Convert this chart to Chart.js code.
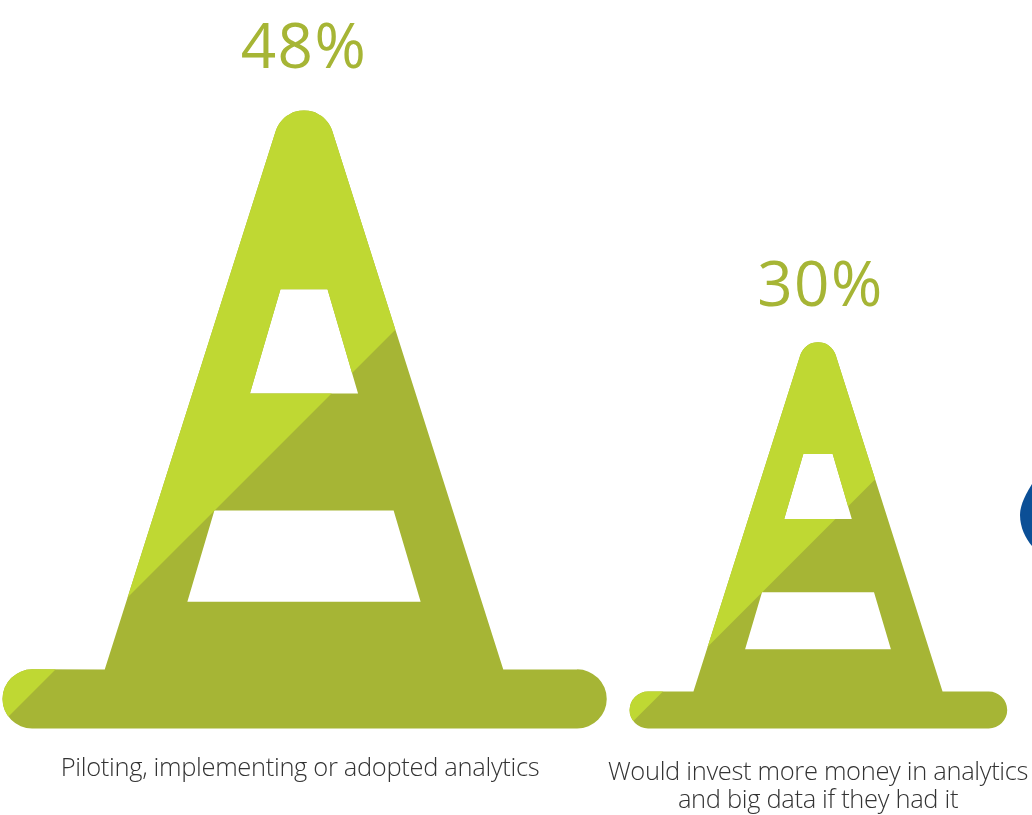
<!DOCTYPE html>
<html>
<head>
<meta charset="utf-8">
<title>Analytics and big data</title>
<script src="https://cdn.jsdelivr.net/npm/chart.js@4"></script>
<style>
  html, body { margin: 0; padding: 0; background: #fff; overflow: hidden; }
  canvas { display: block; }
</style>
</head>
<body>
<canvas id="chart" width="1032" height="815"></canvas>
<script>
// Dados
const categories = [
  ['Piloting, implementing or adopted analytics'],
  ['Would invest more money in analytics', 'and big data if they had it']
];
const values = [48, 30];
const valueLabels = ['48%', '30%'];

const LIGHT = '#bfd833';
const DARK = '#a6b535';

// Contorno do cone, tudo proporcional a altura da barra
function conePath(cx, base, h) {
  const p = new Path2D();
  const apex = base - 1.11 * h;
  const shoulder = base - 0.0955 * h;
  const foot = 0.3222 * h;
  const half = 0.4885 * h;
  const r = 0.0478 * h;
  const mid = cx + 0.001 * h;
  p.moveTo(cx - foot, shoulder);
  p.arcTo(cx, apex, cx + foot, shoulder, 0.048 * h);
  p.lineTo(cx + foot, shoulder);
  p.lineTo(mid + half - r, shoulder);
  p.arc(mid + half - r, base - r, r, -Math.PI / 2, Math.PI / 2);
  p.lineTo(mid - half + r, base);
  p.arc(mid - half + r, base - r, r, Math.PI / 2, Math.PI * 1.5);
  p.closePath();
  // faixas brancas
  [[0.7102, 0.038, 0.5418, 0.0874], [0.3524, 0.1449, 0.2051, 0.1886]].forEach(w => {
    p.moveTo(cx - w[1] * h, base - w[0] * h);
    p.lineTo(cx + w[1] * h, base - w[0] * h);
    p.lineTo(cx + w[3] * h, base - w[2] * h);
    p.lineTo(cx - w[3] * h, base - w[2] * h);
    p.closePath();
  });
  return p;
}

const conePlugin = {
  id: 'cones',
  afterDatasetsDraw(chart) {
    const ctx = chart.ctx;
    chart.getDatasetMeta(0).data.forEach((bar, i) => {
      const h = bar.base - bar.y;
      const cx = bar.x;
      const path = conePath(cx, bar.base, h);
      ctx.save();
      ctx.fillStyle = DARK;
      ctx.fill(path, 'evenodd');
      // parte clara acima da diagonal
      const d = cx + bar.base - 0.497 * h;
      ctx.beginPath();
      ctx.moveTo(d + 100, -100);
      ctx.lineTo(d - 2000, 2000);
      ctx.lineTo(-2000, -2000);
      ctx.closePath();
      ctx.clip();
      ctx.fillStyle = LIGHT;
      ctx.fill(path, 'evenodd');
      ctx.restore();

      // valor
      ctx.save();
      ctx.textAlign = 'center';
      ctx.textBaseline = 'alphabetic';
      ctx.fillStyle = DARK;
      ctx.font = '62px "Open Sans"';
      ctx.letterSpacing = '1.5px';
      ctx.fillText(valueLabels[i], cx + (i === 0 ? 0 : 2.5), bar.y - (26.5 + 0.025 * h));
      // legenda
      ctx.fillStyle = '#333333';
      ctx.font = '300 25.5px "Open Sans"';
      ctx.letterSpacing = '-0.33px';
      categories[i].forEach((line, n) => {
        ctx.fillText(line, cx - (i === 0 ? 4 : 0), bar.base + 58 - 0.017 * h + n * 28.5);
      });
      ctx.restore();
    });

    // pedaco do proximo icone, cortado na borda
    const w = chart.width;
    ctx.save();
    ctx.fillStyle = '#0b4f96';
    ctx.beginPath();
    ctx.moveTo(w, 484);
    ctx.bezierCurveTo(w - 5, 492, w - 12, 504, w - 12, 515);
    ctx.bezierCurveTo(w - 12, 528, w - 6, 539, w, 546);
    ctx.closePath();
    ctx.fill();
    ctx.restore();
  }
};

new Chart(document.getElementById('chart').getContext('2d'), {
  type: 'bar',
  data: {
    labels: categories,
    datasets: [{
      data: values,
      backgroundColor: 'transparent',
      borderWidth: 0
    }]
  },
  options: {
    responsive: false,
    animation: false,
    layout: { padding: { left: 304, right: 214, top: 0, bottom: 86.5 } },
    plugins: { legend: { display: false }, tooltip: { enabled: false } },
    scales: {
      x: { display: false, offset: false },
      y: { display: false, min: 0, max: 56.54 }
    }
  },
  plugins: [conePlugin]
});
</script>
</body>
</html>
